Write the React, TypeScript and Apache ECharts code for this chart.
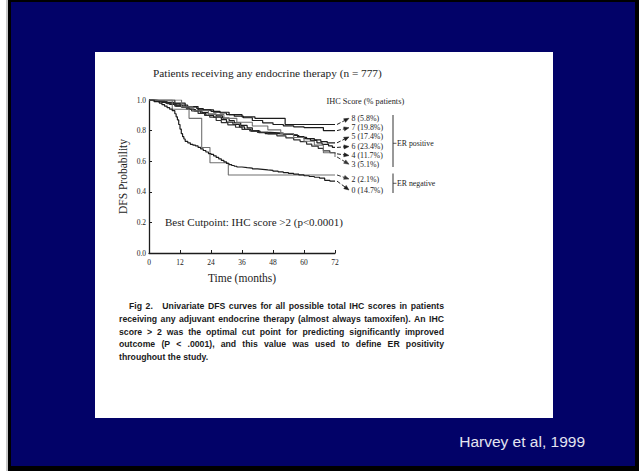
import React, { useEffect, useRef } from "react";
import * as echarts from "echarts";

const W = 639;
const H = 471;

// ---------- data ----------
const timeTickLabels = ["0", "12", "24", "36", "48", "60", "72"];
const probTickLabels = ["0.0", "0.2", "0.4", "0.6", "0.8", "1.0"];

const ihc8 = [[0, 1], [10, 0.98], [14, 0.957], [19, 0.935], [25, 0.92], [31, 0.905], [36, 0.89], [41, 0.88], [52.7, 0.84], [72, 0.84]];
const ihc7 = [[0, 1], [3, 0.995], [6, 0.985], [9.5, 0.975], [12, 0.966], [15, 0.955], [18.5, 0.944], [21, 0.935], [24, 0.926], [27.5, 0.915], [30, 0.905], [33, 0.894], [36.5, 0.884], [40, 0.866], [44, 0.851], [48, 0.84], [52, 0.831], [56, 0.825], [60, 0.82], [67.5, 0.8], [72, 0.8]];
const ihc5 = [[0, 1], [2.5, 0.992], [5, 0.984], [7, 0.976], [10, 0.96], [13, 0.952], [15, 0.94], [17.5, 0.928], [20, 0.912], [22, 0.9], [25, 0.888], [28, 0.872], [30, 0.856], [32.5, 0.84], [35, 0.824], [37, 0.808], [39.5, 0.796], [43, 0.788], [47, 0.784], [52, 0.776], [56, 0.768], [58, 0.756], [61, 0.748], [64, 0.74], [66.5, 0.728], [69, 0.72], [72, 0.72]];
const ihc6 = [[0, 1], [1.5, 0.995], [4, 0.99], [6.5, 0.98], [8, 0.972], [10.5, 0.962], [13, 0.952], [15.5, 0.938], [18, 0.93], [20.5, 0.918], [23, 0.908], [26, 0.896], [28.5, 0.882], [31, 0.866], [33, 0.85], [35.5, 0.834], [38, 0.818], [40, 0.8], [42.5, 0.786], [45, 0.78], [50, 0.776], [54, 0.772], [57.5, 0.76], [60, 0.748], [62.5, 0.736], [65, 0.72], [67, 0.71], [69.5, 0.7], [71, 0.69], [72, 0.69]];
const ihc4 = [[0, 1], [3.5, 0.99], [7, 0.978], [10, 0.966], [12.5, 0.954], [14.5, 0.94], [16.5, 0.928], [19, 0.912], [21.5, 0.9], [23.5, 0.888], [26, 0.866], [28, 0.852], [30.5, 0.838], [33.5, 0.822], [36, 0.808], [39, 0.798], [42, 0.788], [46, 0.778], [49.5, 0.766], [53, 0.752], [56, 0.74], [58.5, 0.728], [61, 0.712], [63, 0.698], [65.5, 0.684], [67.5, 0.668], [70, 0.656], [72, 0.648]];
const ihc3 = [[0, 1], [12.6, 0.955], [17, 0.93], [23, 0.905], [29, 0.88], [34, 0.855], [40, 0.83], [46, 0.805], [51, 0.78], [56, 0.755], [60, 0.73], [64, 0.705], [67.5, 0.655], [72, 0.628]];
const ihc2 = [[0, 1], [9, 0.94], [15.5, 0.88], [20.4, 0.69], [23.6, 0.59], [30.7, 0.51], [72, 0.51]];
const ihc0 = [[0, 1], [2, 0.99], [4, 0.98], [5, 0.97], [6, 0.96], [7, 0.95], [8, 0.94], [9, 0.93], [10, 0.91], [10.5, 0.89], [11, 0.87], [11.5, 0.84], [12, 0.81], [12.5, 0.78], [13, 0.76], [13.5, 0.745], [14, 0.73], [15, 0.72], [16, 0.71], [17, 0.705], [18, 0.7], [19, 0.69], [20, 0.68], [21, 0.67], [22, 0.66], [23, 0.65], [24, 0.645], [25, 0.635], [26, 0.625], [27, 0.615], [28, 0.605], [29, 0.595], [30, 0.585], [31, 0.578], [32, 0.572], [33, 0.567], [34, 0.562], [36, 0.558], [38, 0.555], [40, 0.55], [42, 0.547], [44, 0.543], [46, 0.54], [48, 0.535], [50, 0.53], [52, 0.525], [54, 0.52], [56, 0.515], [58, 0.51], [60, 0.505], [62, 0.5], [64, 0.495], [66, 0.49], [68, 0.475], [70, 0.47], [72, 0.47]];

const groupNames = ["8 (5.8%)", "7 (19.8%)", "5 (17.4%)", "6 (23.4%)", "4 (11.7%)", "3 (5.1%)", "2 (2.1%)", "0 (14.7%)"];
const groupData = [ihc8, ihc7, ihc5, ihc6, ihc4, ihc3, ihc2, ihc0];

const titleText = "Patients receiving any endocrine therapy (n = 777)";
const cutpointText = "Best Cutpoint: IHC score >2 (p<0.0001)";
const legendTitle = "IHC Score (% patients)";
const captionLines = [
  "Fig 2.   Univariate DFS curves for all possible total IHC scores in patients",
  "receiving any adjuvant endocrine therapy (almost always tamoxifen). An IHC",
  "score > 2 was the optimal cut point for predicting significantly improved",
  "outcome (P < .0001), and this value was used to define ER positivity",
  "throughout the study.",
];
const sourceText = "Harvey et al, 1999";

// ---------- styles / layout ----------
const SERIF = '"Liberation Serif", "DejaVu Serif", serif';
const SANS = '"Liberation Sans", Arial, sans-serif';
const INK = "#1c1c1c";
const GRAY = "#707070";
const groupColors = [INK, INK, INK, INK, "#303030", GRAY, GRAY, INK];
const LABEL_Y = [118.3, 127.7, 136.9, 146.5, 155.5, 164.2, 179, 190];
const LABEL_X = 351.5;

function txt(text: string, x: number, y: number, size: number, opts: any = {}) {
  const align = opts.align || "left";
  const valign = opts.valign || "middle";
  return {
    type: "text",
    z: 10,
    style: {
      text,
      x,
      y,
      fontSize: size,
      fontFamily: opts.family || SERIF,
      fontWeight: opts.weight || "normal",
      fill: opts.fill || INK,
      align,
      verticalAlign: valign,
      textAlign: align,
      textVerticalAlign: valign,
    },
  };
}

function arrow(x1: number, y1: number, x2: number, y2: number, color: string) {
  const dx = x2 - x1;
  const dy = y2 - y1;
  const len = Math.sqrt(dx * dx + dy * dy) || 1;
  const ux = dx / len;
  const uy = dy / len;
  const hl = 5;
  const hw = 2;
  const bx = x2 - ux * hl;
  const by = y2 - uy * hl;
  return [
    {
      type: "line",
      z: 10,
      shape: { x1, y1, x2: bx, y2: by },
      style: { stroke: color, lineWidth: 1, lineDash: [4, 2] },
    },
    {
      type: "polygon",
      z: 10,
      shape: {
        points: [
          [x2, y2],
          [bx - uy * hw, by + ux * hw],
          [bx + uy * hw, by - ux * hw],
        ],
      },
      style: { fill: color, stroke: color, lineWidth: 0.5 },
    },
  ];
}

export default function App() {
  const ref = useRef<HTMLDivElement>(null);

  useEffect(() => {
    document.body.style.margin = "0";
    const el = ref.current!;
    const chart = echarts.init(el, null, { renderer: "svg", width: W, height: H });

    const axisLineStyle = { color: INK, width: 1.3 };
    const option: any = {
      animation: false,
      backgroundColor: "#ffffff",
      grid: { left: 149, top: 100, width: 186, height: 153, containLabel: false },
      xAxis: {
        type: "value",
        min: 0,
        max: 72,
        interval: 12,
        name: "Time (months)",
        nameLocation: "middle",
        nameGap: 19,
        nameTextStyle: { fontFamily: SERIF, fontSize: 11.5, color: INK },
        axisLine: { show: true, onZero: false, lineStyle: axisLineStyle },
        axisTick: { show: true, inside: true, length: 3, lineStyle: { color: INK, width: 1 } },
        axisLabel: {
          fontFamily: SERIF,
          fontSize: 7.5,
          color: "#222",
          margin: 5,
          formatter: (v: number) => timeTickLabels[Math.round(v / 12)] ?? "",
        },
        splitLine: { show: false },
      },
      yAxis: {
        type: "value",
        min: 0,
        max: 1,
        interval: 0.2,
        name: "DFS Probability",
        nameLocation: "middle",
        nameRotate: 90,
        nameGap: 20,
        nameTextStyle: { fontFamily: SERIF, fontSize: 11.5, color: INK },
        axisLine: { show: true, onZero: false, lineStyle: axisLineStyle },
        axisTick: { show: true, inside: true, length: 3, lineStyle: { color: INK, width: 1 } },
        axisLabel: {
          fontFamily: SERIF,
          fontSize: 7.5,
          color: "#222",
          margin: 3,
          formatter: (v: number) => probTickLabels[Math.round(v / 0.2)] ?? "",
        },
        splitLine: { show: false },
      },
      series: groupData.map((d, i) => ({
        type: "line",
        name: groupNames[i],
        step: "end",
        data: d,
        symbol: "none",
        silent: true,
        z: 3,
        lineStyle: { color: groupColors[i], width: i >= 5 && i <= 6 ? 1.1 : 1.2 },
      })),
    };
    chart.setOption(option);

    // ---------- annotations ----------
    const g: any[] = [];
    // slide background
    g.push({ type: "rect", z: -10, shape: { x: 0, y: 0, width: W, height: H }, style: { fill: "#ffffff" } });
    g.push({ type: "rect", z: -10, shape: { x: 6, y: 0, width: 2, height: H }, style: { fill: "#c8c8c8" } });
    g.push({ type: "rect", z: -10, shape: { x: 8, y: 0, width: W - 8, height: H }, style: { fill: "#000000" } });
    g.push({ type: "rect", z: -10, shape: { x: 11, y: 2, width: 624, height: 464 }, style: { fill: "#020268" } });
    g.push({ type: "rect", z: -10, shape: { x: 95, y: 52, width: 458, height: 366 }, style: { fill: "#ffffff" } });

    // texts in the figure
    g.push(txt(titleText, 153, 73, 11.3));
    g.push(txt(cutpointText, 165, 222, 11));
    g.push(txt(legendTitle, 326.5, 101.7, 8.3));

    // arrows + group labels
    groupData.forEach((d, i) => {
      const last = d[d.length - 1];
      const p = chart.convertToPixel({ gridIndex: 0 }, [last[0], last[1]]) as number[];
      const arr = arrow(p[0] + 2, p[1], LABEL_X - 2.5, LABEL_Y[i], groupColors[i] === GRAY ? "#333" : INK);
      g.push(...arr);
      g.push(txt(groupNames[i], LABEL_X, LABEL_Y[i], 7.9));
    });

    // brackets
    g.push({ type: "line", z: 10, shape: { x1: 393, y1: 115, x2: 393, y2: 167 }, style: { stroke: "#333", lineWidth: 1 } });
    g.push({ type: "line", z: 10, shape: { x1: 393, y1: 143.3, x2: 396.5, y2: 143.3 }, style: { stroke: "#333", lineWidth: 0.8 } });
    g.push(txt("ER positive", 397, 143.3, 7.8));
    g.push({ type: "line", z: 10, shape: { x1: 393, y1: 173.5, x2: 393, y2: 193 }, style: { stroke: "#333", lineWidth: 1 } });
    g.push({ type: "line", z: 10, shape: { x1: 393, y1: 183.3, x2: 396.5, y2: 183.3 }, style: { stroke: "#333", lineWidth: 0.8 } });
    g.push(txt("ER negative", 397, 183.3, 7.8));

    // caption, justified
    const canvas = document.createElement("canvas");
    const ctx = canvas.getContext("2d")!;
    const capWeight = "bold";
    ctx.font = `${capWeight} 10px "Liberation Sans"`;
    const w2 = ctx.measureText(captionLines[1]).width;
    const capSize = Math.max(6.5, Math.min(9.5, (10 * 316) / w2));
    ctx.font = `${capWeight} ${capSize}px "Liberation Sans"`;
    const capY = [306, 318.7, 331.5, 344, 356.7];
    const capLeft = 119;
    const capRight = 444;
    captionLines.forEach((line, li) => {
      const y = capY[li];
      if (li === captionLines.length - 1) {
        g.push(txt(line, capLeft, y, capSize, { family: SANS, weight: capWeight, fill: "#1a1a1a" }));
        return;
      }
      let x0 = capLeft;
      const words = line.split(/\s+/);
      let extra = 0;
      if (li === 0) {
        x0 = 129;
        extra = 6;
      }
      const widths = words.map((w) => ctx.measureText(w).width);
      const sum = widths.reduce((a, b) => a + b, 0);
      const gap = (capRight - x0 - sum - extra) / (words.length - 1);
      let x = x0;
      words.forEach((w, wi) => {
        g.push(txt(w, x, y, capSize, { family: SANS, weight: capWeight, fill: "#1a1a1a" }));
        x += widths[wi] + gap;
        if (li === 0 && wi === 1) x += extra;
      });
    });

    // source
    g.push(txt(sourceText, 585, 441, 15.5, { family: SANS, fill: "#e4e4f0", align: "right" }));

    chart.setOption({ graphic: { elements: g } });

    return () => chart.dispose();
  }, []);

  return <div ref={ref} style={{ position: "absolute", left: 0, top: 0, width: W, height: H }} />;
}
